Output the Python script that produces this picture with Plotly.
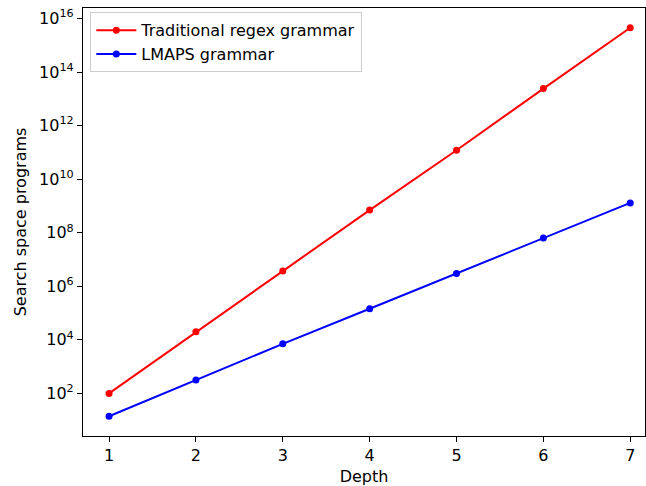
import plotly.graph_objects as go

depth = [1, 2, 3, 4, 5, 6, 7]
traditional = [100, 2.0e4, 3.7e6, 7.0e8, 1.2e11, 2.4e13, 4.5e15]
lmaps = [14, 320, 7.1e3, 1.45e5, 3.0e6, 6.3e7, 1.3e9]

y_tickvals = [1e2, 1e4, 1e6, 1e8, 1e10, 1e12, 1e14, 1e16]
y_ticktext = ["10<sup>2</sup>", "10<sup>4</sup>", "10<sup>6</sup>", "10<sup>8</sup>",
              "10<sup>10</sup>", "10<sup>12</sup>", "10<sup>14</sup>", "10<sup>16</sup>"]
x_tickvals = [1, 2, 3, 4, 5, 6, 7]

font = "DejaVu Sans"

fig = go.Figure()
fig.add_trace(go.Scatter(x=depth, y=traditional, mode="lines+markers",
                         name="Traditional regex grammar",
                         line=dict(color="red", width=2),
                         marker=dict(color="red", size=7)))
fig.add_trace(go.Scatter(x=depth, y=lmaps, mode="lines+markers",
                         name="LMAPS grammar",
                         line=dict(color="blue", width=2),
                         marker=dict(color="blue", size=7)))

fig.update_layout(
    width=646, height=486,
    margin=dict(l=83, r=1, t=8, b=50),
    paper_bgcolor="white", plot_bgcolor="white",
    font=dict(family=font, size=16, color="black"),
    showlegend=True,
    legend=dict(x=0.013, y=0.99, xanchor="left", yanchor="top",
                bordercolor="#cccccc", borderwidth=1, bgcolor="rgba(255,255,255,0.8)",
                font=dict(family=font, size=16), tracegroupgap=0, itemwidth=40),
    xaxis=dict(range=[0.7, 7.17], tickvals=x_tickvals, ticks="outside", ticklen=5,
               tickcolor="black", showline=True, linecolor="black", linewidth=1.2,
               mirror=True, showgrid=False, zeroline=False,
               tickfont=dict(size=16),
               title=dict(text="Depth", standoff=6, font=dict(size=16))),
    yaxis=dict(type="log", range=[0.41, 16.39], tickvals=y_tickvals, ticktext=y_ticktext,
               ticks="outside", ticklen=5, tickcolor="black", showline=True,
               linecolor="black", linewidth=1.2, mirror=True, showgrid=False,
               zeroline=False, tickfont=dict(size=16),
               title=dict(text="Search space programs", standoff=8, font=dict(size=16))),
)

fig.write_html("out.html")
